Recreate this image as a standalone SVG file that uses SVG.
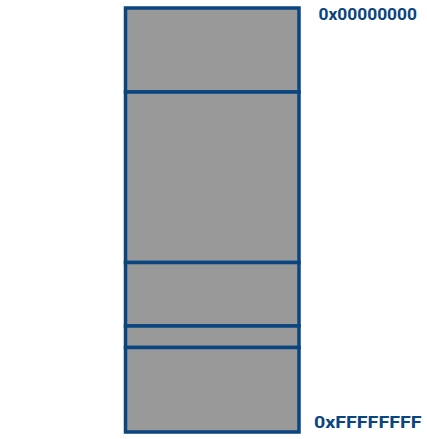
<svg xmlns="http://www.w3.org/2000/svg" width="427" height="439" viewBox="0 0 427 439">
<style>
.seg{fill:#999999;stroke:#0a4580;stroke-width:3.5}
.lbl{font-family:Roboto,"Liberation Sans",sans-serif;font-weight:bold;font-size:17px;fill:#0a4580}
</style>
<rect width="427" height="439" fill="#ffffff"/>
<g id="seg1"><rect class="seg" x="125.5" y="8" width="173.5" height="84"/></g>
<g id="seg2"><rect class="seg" x="125.5" y="92" width="173.5" height="170.5"/></g>
<g id="seg3"><rect class="seg" x="125.5" y="262.5" width="173.5" height="63.5"/></g>
<g id="seg4"><rect class="seg" x="125.5" y="326" width="173.5" height="21.5"/></g>
<g id="seg5"><rect class="seg" x="125.5" y="347.5" width="173.5" height="84.5"/></g>
<g id="labels">
<text class="lbl" x="318.5" y="20" textLength="98.5" lengthAdjust="spacingAndGlyphs">0x00000000</text>
<text class="lbl" x="314" y="428" textLength="107.5" lengthAdjust="spacingAndGlyphs">0xFFFFFFFF</text>
</g>
</svg>
